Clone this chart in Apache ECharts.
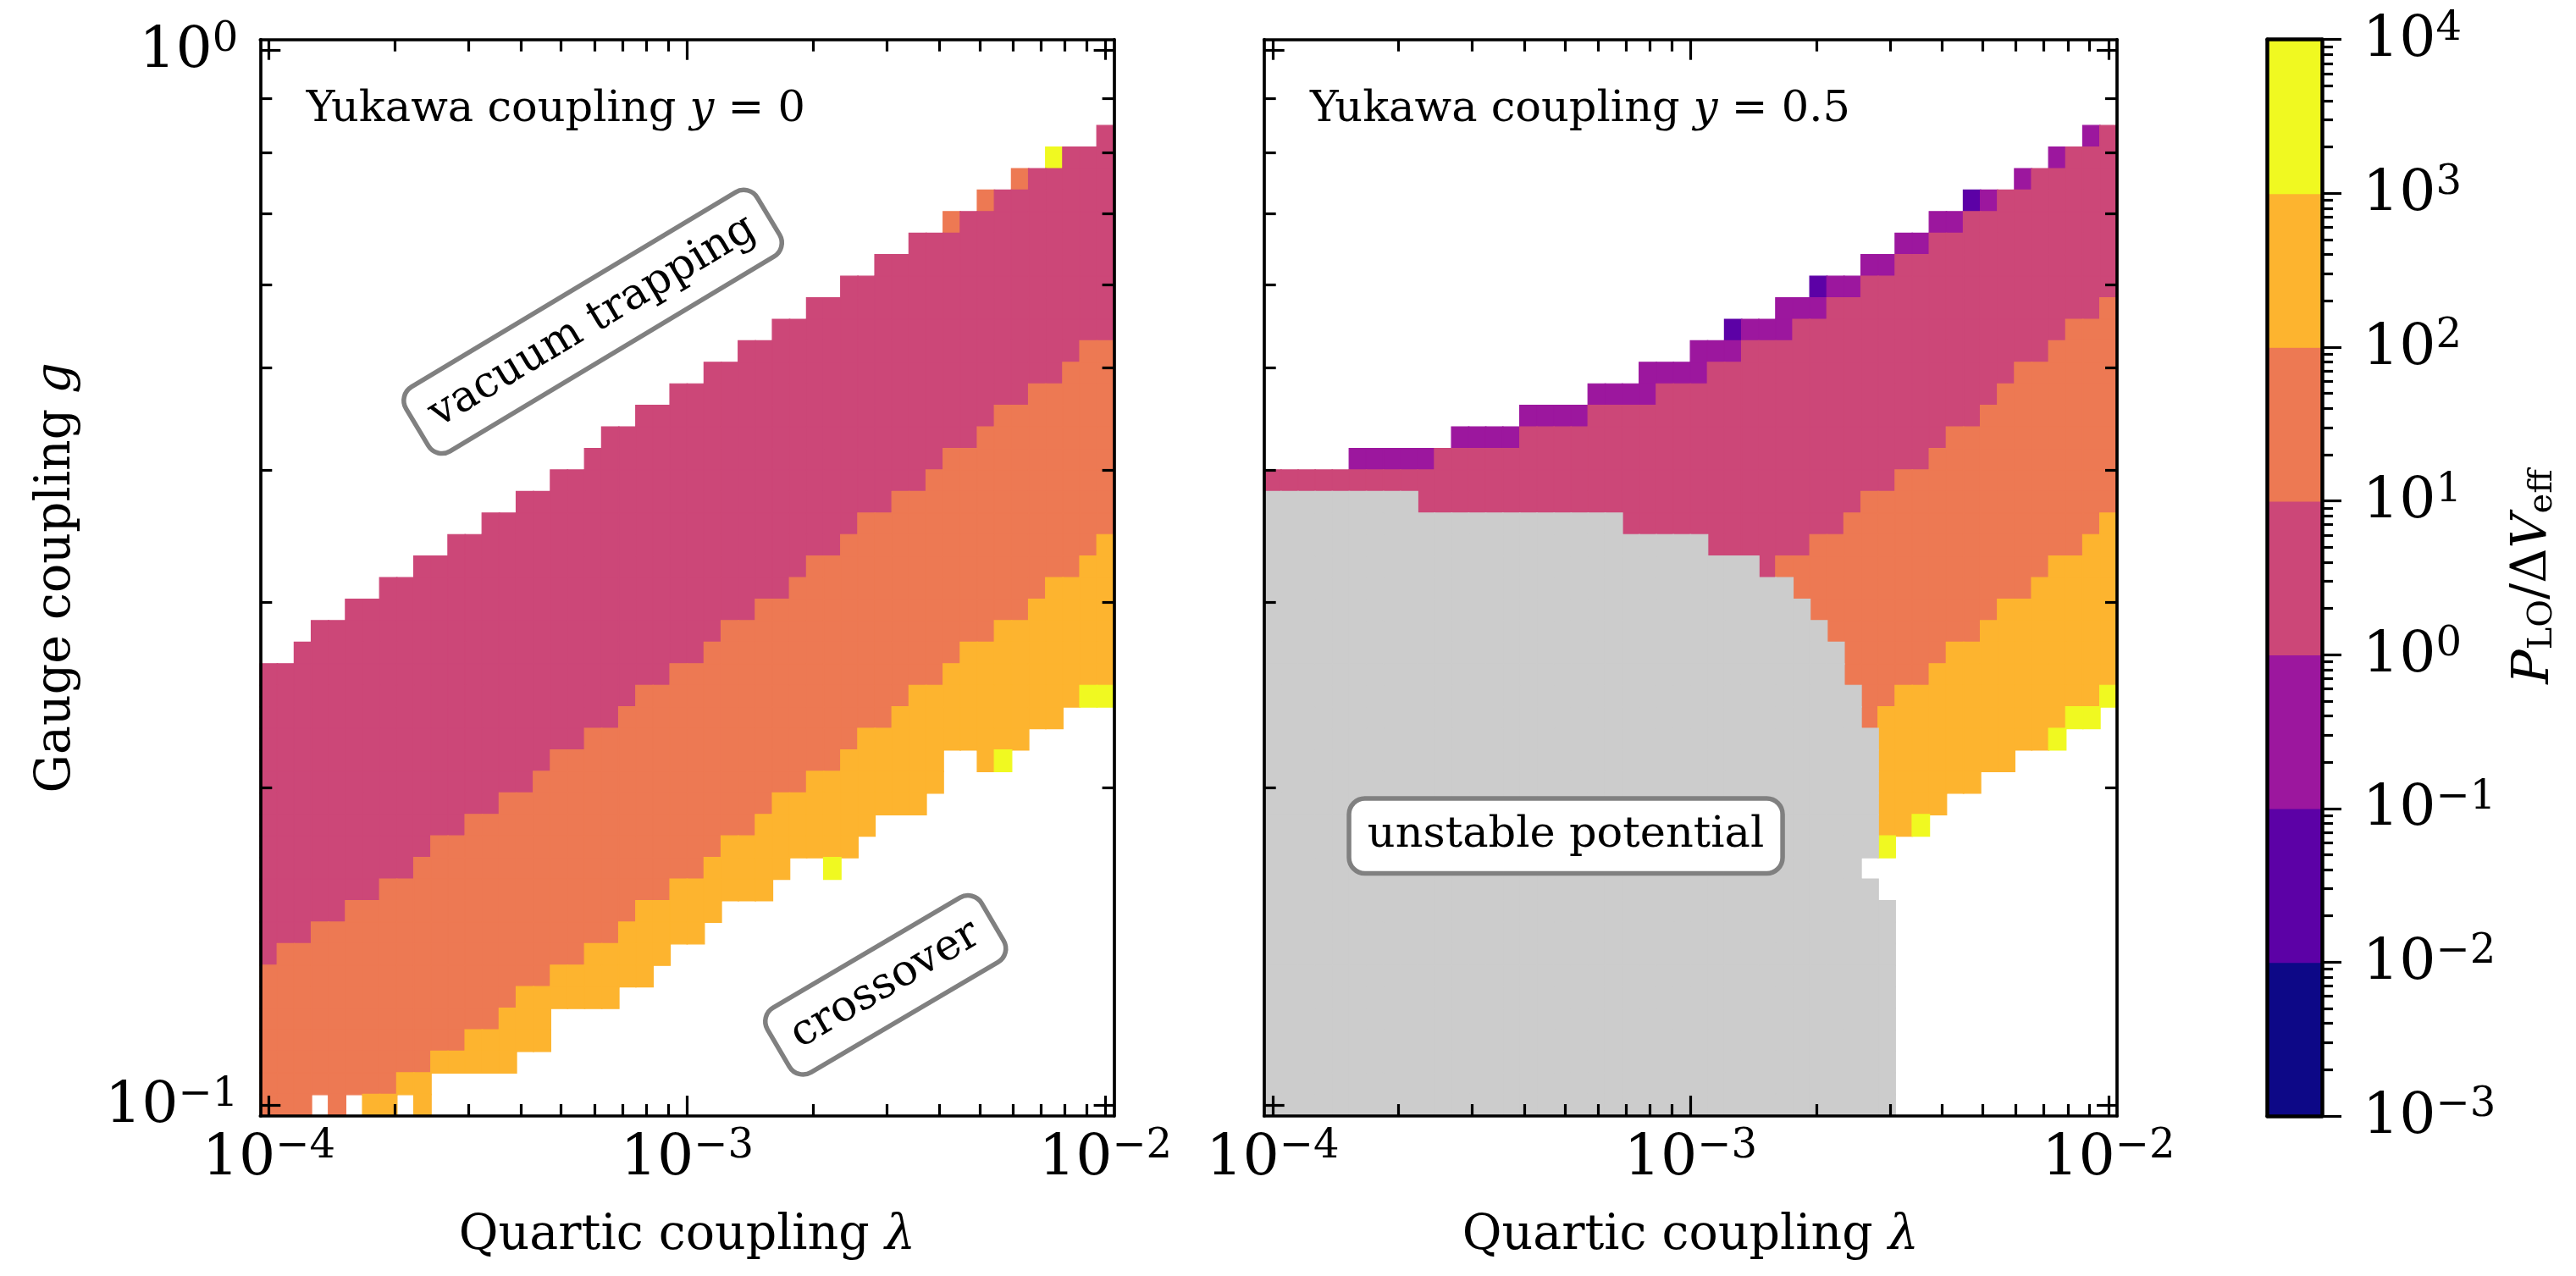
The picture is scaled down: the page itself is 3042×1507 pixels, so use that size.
<!DOCTYPE html>
<html><head><meta charset="utf-8">
<script src="https://cdn.jsdelivr.net/npm/echarts@6/dist/echarts.min.js"></script>
<style>html,body{margin:0;padding:0;background:#fff}#c{width:3042px;height:1507px}</style>
</head><body><div id="c"></div>
<script>
// ================= DATA =================
const N = 50;                       // 50 x 50 log-spaced scan
const lambdaExpRange = [-4, -2];    // log10 of quartic coupling
const gExpRange = [-1, 0];          // log10 of gauge coupling
const xMajorExp = [-4, -3, -2];
const yMajorExp = [-1, 0];
const cbMajorExp = [-3, -2, -1, 0, 1, 2, 3, 4];
const classColors = ['#0d0887', '#5c01a6', '#9c179e', '#cc4778', '#ed7953', '#fdb42f', '#f0f921'];
const classLog = [-2.5, -1.5, -0.5, 0.5, 1.5, 2.5, 3.5]; // representative log10(P/dV) of each colour band
const grayColor = '#cccccc';

// Per lambda-column band edges, given as g-row index counted from the top (row 0 = g = 1, row 49 = g = 0.1)
// y = 0 panel
const L_top = [29,29,28,27,27,26,26,25,25,24, 24,23,23,22,22,21,21,20,20,19, 18,18,17,17,16,16,15,15,14,14, 13,13,12,12,11,11,10,10,9,9, 8,8,7,7,6,6,5,5,5,4];
const L_pink = L_top;
const L_orange = [43,42,42,41,41,40,40,39,39,38, 37,37,36,36,35,35,34,33,33,32, 32,31,30,30,29,29,28,27,27,26, 26,25,24,24,23,22,22,21,21,20, 19,19,18,17,17,16,16,15,14,14];
const L_gold = [50,50,50,50,50,50,49,49,48,48, 47,47,46,46,45,44,44,43,43,42, 42,41,40,40,39,39,38,37,37,36, 35,35,34,34,33,32,32,31,30,30, 29,28,28,27,27,26,25,25,24,23];
const L_end = [50,50,50,50,50,50,50,50,50,50, 48,48,48,48,48,47,47,45,45,45, 45,44,44,43,42,42,41,40,40,40, 39,38,38,39,38,37,36,36,36,35, 33,33,34,34,33,32,32,31,31,31];
const L_gray = new Array(N).fill(50);
const L_special = [[40,8,4],[42,7,4],[44,6,4],[46,5,6],[33,38,6],[43,33,6],[48,30,6],[49,30,6],[3,49,null],[5,49,null],[8,49,null]];

// y = 0.5 panel
const R_top = [20,20,20,20,20,19,19,19,19,19, 19,18,18,18,18,17,17,17,17,16, 16,16,15,15,15,14,14,13,13,13, 12,12,11,11,11,10,10,9,9,8, 8,7,7,7,6,6,5,5,4,4];
const R_pink = [20,20,20,20,20,20,20,20,20,20, 19,19,19,19,19,18,18,18,18,17, 17,17,17,16,16,16,15,15,14,14, 14,13,13,12,12,11,11,10,10,9, 9,8,8,7,7,6,6,5,5,4];
const R_orange = [50,50,50,50,50,50,50,50,50,50, 50,50,50,50,50,50,50,50,50,50, 50,50,50,50,50,50,50,50,50,50, 24,24,23,23,22,21,21,20,20,19, 18,18,17,16,15,15,14,13,13,12];
const R_gold = [50,50,50,50,50,50,50,50,50,50, 50,50,50,50,50,50,50,50,50,50, 50,50,50,50,50,50,50,50,50,50, 50,50,50,50,50,50,31,30,30,29, 28,28,27,26,26,25,24,24,23,22];
const R_end = [21,21,21,21,21,21,21,21,21,22, 22,22,22,22,22,22,22,22,22,22, 22,23,23,23,23,23,24,24,24,25, 25,26,27,28,30,32,38,37,37,36, 35,35,34,34,33,33,33,32,32,31];
const R_gray = [21,21,21,21,21,21,21,21,21,22, 22,22,22,22,22,22,22,22,22,22, 22,23,23,23,23,23,24,24,24,25, 25,26,27,28,30,32,40,50,50,50, 50,50,50,50,50,50,50,50,50,50];
const R_special = [[27,13,1],[32,11,1],[41,7,1],[36,37,6],[38,36,6],[46,32,6],[47,31,6],[48,31,6],[49,30,6],[35,38,null]];

const panelTexts = ['0', '0.5'];
const annotations = [
  {panel: 0, lam: 5.95e-4, g: 0.553, text: 'vacuum trapping', rot: 31},
  {panel: 0, lam: 2.98e-3, g: 0.130, text: 'crossover', rot: 30.5},
  {panel: 1, lam: 5.03e-4, g: 0.180, text: 'unstable potential', rot: 0}
];

// ================= BUILD =================
const FONT = "'DejaVu Serif', serif";
const AXIS_LW = 3.7, TICK_LW = 3.2, MAJ_LEN = 24, MIN_LEN = 14;

const lamCats = [], gCats = [];
for (let i = 0; i < N; i++) {
  lamCats.push(Math.pow(10, lambdaExpRange[0] + (lambdaExpRange[1] - lambdaExpRange[0]) * i / (N - 1)).toExponential(3));
  gCats.push(Math.pow(10, gExpRange[0] + (gExpRange[1] - gExpRange[0]) * i / (N - 1)).toFixed(4));
}
const xHalf = (lambdaExpRange[1] - lambdaExpRange[0]) / (N - 1) / 2;
const yHalf = (gExpRange[1] - gExpRange[0]) / (N - 1) / 2;
const xMin = lambdaExpRange[0] - xHalf, xMax = lambdaExpRange[1] + xHalf;
const yMin = gExpRange[0] - yHalf, yMax = gExpRange[1] + yHalf;

function minorLogs(exps, lo, hi) {
  const out = [];
  exps.forEach(e => { for (let k = 2; k <= 9; k++) { const v = e + Math.log10(k); if (v > lo && v < hi) out.push(v); } });
  return out;
}
const xMinor = minorLogs([-5, -4, -3, -2], xMin, xMax);
const yMinor = minorLogs([-2, -1, 0], yMin, yMax);
const cbMinor = minorLogs([-3, -2, -1, 0, 1, 2, 3], -3, 4);

function cell(c, j, v, color) {
  return {value: [c, j, v], itemStyle: {borderColor: color, borderWidth: 1.2}};
}
function buildPanel(top, pink, orange, gold, end, gray, special) {
  const grid = [];
  for (let r = 0; r < N; r++) grid.push(new Array(N).fill(null));
  for (let c = 0; c < N; c++) {
    for (let r = top[c]; r < end[c]; r++) {
      grid[r][c] = r < pink[c] ? 2 : r < orange[c] ? 3 : r < gold[c] ? 4 : 5;
    }
    for (let r = gray[c]; r < N; r++) grid[r][c] = 'gray';
  }
  special.forEach(s => { grid[s[1]][s[0]] = s[2]; });
  const cells = [], grays = [];
  for (let r = 0; r < N; r++) for (let c = 0; c < N; c++) {
    const v = grid[r][c];
    if (v === null) continue;
    if (v === 'gray') grays.push(cell(c, N - 1 - r, 1, grayColor));
    else cells.push(cell(c, N - 1 - r, classLog[v], classColors[v]));
  }
  return {cells, grays};
}
const left = buildPanel(L_top, L_pink, L_orange, L_gold, L_end, L_gray, L_special);
const right = buildPanel(R_top, R_pink, R_orange, R_gold, R_end, R_gray, R_special);

const sup = e => (e < 0 ? '\u2212' + Math.abs(e) : String(e));
const tickFmt = v => '{b|10}{s|' + sup(Math.round(v)) + '}';
const RICH_TICK = {
  b: {fontFamily: FONT, fontSize: 68, lineHeight: 72, verticalAlign: 'bottom', color: '#000'},
  s: {fontFamily: FONT, fontSize: 48, lineHeight: 48, verticalAlign: 'top', padding: [0, 0, 28, 0], color: '#000'}
};
const RICH_TITLE = {
  r: {fontFamily: FONT, fontSize: 57, lineHeight: 66, color: '#000'},
  i: {fontFamily: FONT, fontSize: 57, lineHeight: 66, fontStyle: 'italic', color: '#000'}
};

function tickAxis(gi, pos, min, max, ticks, len, o) {
  o = o || {};
  const ax = {
    type: 'value', gridIndex: gi, position: pos, min: min, max: max, z: 10,
    axisLine: {show: !!o.line, onZero: false, lineStyle: {color: '#000', width: o.lw || AXIS_LW}},
    axisTick: {show: ticks.length > 0, customValues: ticks, inside: !o.outside, length: len, lineStyle: {color: '#000', width: TICK_LW}},
    axisLabel: o.labels ? {show: true, customValues: o.labels, formatter: tickFmt, rich: RICH_TICK, margin: o.margin} : {show: false},
    splitLine: {show: false}, minorTick: {show: false}, minorSplitLine: {show: false}
  };
  if (o.name) { ax.name = o.name; ax.nameLocation = 'middle'; ax.nameGap = o.nameGap; ax.nameTextStyle = {rich: RICH_TITLE}; }
  return ax;
}

const xAxes = [], yAxes = [];
[0, 1].forEach(gi => {
  xAxes.push({type: 'category', gridIndex: gi, data: lamCats, show: false});
  xAxes.push(tickAxis(gi, 'bottom', xMin, xMax, xMajorExp, MAJ_LEN, {line: true, labels: xMajorExp, margin: 13, name: '{r|Quartic coupling }{i|\u03bb}', nameGap: 109}));
  xAxes.push(tickAxis(gi, 'bottom', xMin, xMax, xMinor, MIN_LEN));
  xAxes.push(tickAxis(gi, 'top', xMin, xMax, xMajorExp, MAJ_LEN, {line: true}));
  xAxes.push(tickAxis(gi, 'top', xMin, xMax, xMinor, MIN_LEN));
  yAxes.push({type: 'category', gridIndex: gi, data: gCats, show: false});
  yAxes.push(tickAxis(gi, 'left', yMin, yMax, yMajorExp, MAJ_LEN, gi === 0 ? {line: true, labels: yMajorExp, margin: 26, name: '{r|Gauge coupling }{i|g}', nameGap: 207} : {line: true}));
  yAxes.push(tickAxis(gi, 'left', yMin, yMax, yMinor, MIN_LEN));
  yAxes.push(tickAxis(gi, 'right', yMin, yMax, yMajorExp, MAJ_LEN, {line: true}));
  yAxes.push(tickAxis(gi, 'right', yMin, yMax, yMinor, MIN_LEN));
});
// colour bar axes (grid 2)
xAxes.push({type: 'category', gridIndex: 2, data: [''], position: 'bottom', z: 10,
  axisLine: {show: true, onZero: false, lineStyle: {color: '#000', width: 4.5}}, axisTick: {show: false}, axisLabel: {show: false}});
xAxes.push(tickAxis(2, 'top', 0, 1, [], 0, {line: true, lw: 4.5}));
yAxes.push({type: 'category', gridIndex: 2, data: classLog.map(String), show: false});
yAxes.push(tickAxis(2, 'right', -3, 4, cbMajorExp, 23, {line: true, lw: 4.5, outside: true, labels: cbMajorExp, margin: 48}));
yAxes.push(tickAxis(2, 'right', -3, 4, cbMinor, 13, {outside: true}));
yAxes.push(tickAxis(2, 'left', -3, 4, [], 0, {line: true, lw: 4.5}));

const cbData = classLog.map((v, k) => cell(0, k, v, classColors[k]));
const hm = (xi, yi, data, name) => ({type: 'heatmap', name: name, xAxisIndex: xi, yAxisIndex: yi, data: data,
  progressive: 0, silent: true, emphasis: {disabled: true}});

const pieces = classColors.map((c, k) => ({min: k - 3, max: k - 2, color: c}));

const option = {
  animation: false,
  backgroundColor: '#ffffff',
  textStyle: {fontFamily: FONT},
  grid: [
    {left: 307.3, top: 46.7, width: 1008.3, height: 1271.3},
    {left: 1492.7, top: 46.7, width: 1007.3, height: 1271.3},
    {left: 2677.5, top: 46.7, width: 64.5, height: 1271.3}
  ],
  xAxis: xAxes,
  yAxis: yAxes,
  visualMap: [
    {type: 'piecewise', show: false, dimension: 2, seriesIndex: [0, 1, 3], pieces: pieces},
    {type: 'piecewise', show: false, dimension: 2, seriesIndex: [2], pieces: [{min: 0, max: 2, color: grayColor}]}
  ],
  series: [
    hm(0, 0, left.cells, 'y = 0'),
    hm(5, 5, right.cells, 'y = 0.5'),
    hm(5, 5, right.grays, 'unstable potential'),
    hm(10, 10, cbData, 'colorbar')
  ]
};

const chart = echarts.init(document.getElementById('c'), null, {renderer: 'canvas', width: 3042, height: 1507});
chart.setOption(option);

// ---- annotations ----
const graphics = [];
const gridBoxes = [{left: 307.3, width: 1008.3}, {left: 1492.7, width: 1007.3}];
panelTexts.forEach((t, p) => {
  graphics.push({type: 'text', z: 100, x: gridBoxes[p].left + 0.054 * gridBoxes[p].width, y: 130,
    style: {text: '{r|Yukawa coupling }{i|y}{r| = ' + t + '}', align: 'left', verticalAlign: 'middle',
      rich: {r: {fontFamily: FONT, fontSize: 51, lineHeight: 60, fill: '#000'}, i: {fontFamily: FONT, fontSize: 51, lineHeight: 60, fontStyle: 'italic', fill: '#000'}}}});
});
annotations.forEach(a => {
  const ax = a.panel === 0 ? 1 : 6;
  const pt = chart.convertToPixel({xAxisIndex: ax, yAxisIndex: ax}, [Math.log10(a.lam), Math.log10(a.g)]);
  graphics.push({type: 'text', z: 100, x: pt[0], y: pt[1], rotation: a.rot * Math.PI / 180,
    style: {text: a.text, fontFamily: FONT, fontSize: 51, lineHeight: 51, fill: '#000', align: 'center', verticalAlign: 'middle',
      backgroundColor: '#ffffff', borderColor: '#808080', borderWidth: 5.5, borderRadius: 16, padding: [16, 19]}});
});
graphics.push({type: 'text', z: 100, x: 2993, y: 681, rotation: Math.PI / 2,
  style: {text: '{p|P}{sb|LO}{n|/\u0394}{v|V}{sb|eff}', align: 'center', verticalAlign: 'middle',
    rich: {
      p: {fontFamily: FONT, fontSize: 60, lineHeight: 60, fontStyle: 'italic', verticalAlign: 'top', fill: '#000'},
      v: {fontFamily: FONT, fontSize: 57, lineHeight: 60, fontStyle: 'italic', verticalAlign: 'top', fill: '#000'},
      n: {fontFamily: FONT, fontSize: 57, lineHeight: 60, verticalAlign: 'top', fill: '#000'},
      sb: {fontFamily: FONT, fontSize: 40, lineHeight: 40, verticalAlign: 'bottom', padding: [32, 0, 0, 0], fill: '#000'}
    }}});
chart.setOption({graphic: graphics});
</script></body></html>
